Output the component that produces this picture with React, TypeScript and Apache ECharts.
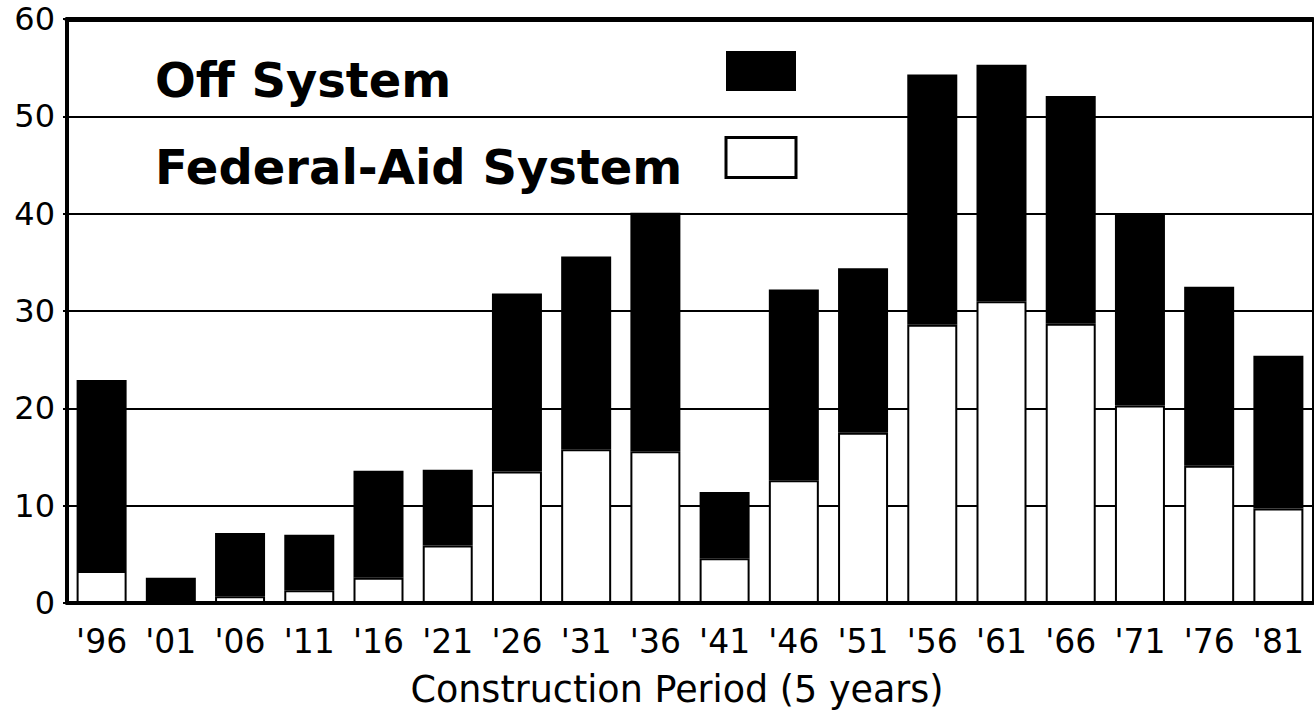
import React, { useEffect, useRef } from "react";
import * as echarts from "echarts";

const categories = ["'96", "'01", "'06", "'11", "'16", "'21", "'26", "'31", "'36", "'41", "'46", "'51", "'56", "'61", "'66", "'71", "'76", "'81"];
const federalAid = [3.3, 0.3, 0.7, 1.3, 2.6, 5.9, 13.5, 15.8, 15.6, 4.6, 12.6, 17.5, 28.6, 31.0, 28.7, 20.3, 14.1, 9.7];
const offSystem = [19.6, 2.3, 6.5, 5.7, 11.0, 7.8, 18.3, 19.8, 24.5, 6.8, 19.6, 16.9, 25.7, 24.3, 23.4, 19.6, 18.4, 15.7];
const yTicks = { min: 0, max: 60, interval: 10 };
const xTitle = "Construction Period (5 years)";

const FONT = "DejaVu Sans";

export default function App() {
  const ref = useRef<HTMLDivElement>(null);
  useEffect(() => {
    if (!ref.current) return;
    const chart = echarts.init(ref.current, undefined, { renderer: "svg" });
    chart.setOption({
      animation: false,
      backgroundColor: "#ffffff",
      grid: {
        left: 67,
        right: 1,
        top: 19,
        bottom: 112,
        show: true,
        borderColor: "#000",
        borderWidth: 2,
        backgroundColor: "transparent",
      },
      legend: {
        orient: "vertical",
        left: 155,
        top: 51,
        padding: 0,
        itemGap: 32,
        itemWidth: 70,
        itemHeight: 40,
        align: "right",
        icon: "rect",
        selectedMode: false,
        formatter: "{t|{name}}",
        textStyle: {
          rich: {
            t: {
              width: 566,
              align: "left",
              fontSize: 48,
              fontWeight: "bold",
              fontFamily: FONT,
              color: "#000",
              padding: [18, 0, 0, 0],
            },
          },
        },
        data: [
          { name: "Off System", itemStyle: { color: "#000", borderWidth: 0 } },
          { name: "Federal-Aid System", itemStyle: { color: "#fff", borderColor: "#000", borderWidth: 3 } },
        ],
      },
      xAxis: [
        {
          type: "category",
          data: categories,
          axisLine: { lineStyle: { color: "#000", width: 4 } },
          axisTick: { show: false },
          axisLabel: { color: "#000", fontSize: 33, fontFamily: FONT, margin: 22, interval: 0 },
          name: xTitle,
          nameLocation: "middle",
          nameGap: 68,
          nameTextStyle: { color: "#000", fontSize: 36.5, fontFamily: FONT, padding: [0, 26, 0, 0] },
          splitLine: { show: false },
        },
        {
          type: "category",
          position: "top",
          data: categories,
          axisLine: { lineStyle: { color: "#000", width: 5 } },
          axisTick: { show: false },
          axisLabel: { show: false },
          splitLine: { show: false },
        },
      ],
      yAxis: {
        type: "value",
        min: yTicks.min,
        max: yTicks.max,
        interval: yTicks.interval,
        axisLine: { show: true, lineStyle: { color: "#000", width: 4 } },
        axisTick: { show: true, length: 4, lineStyle: { color: "#000", width: 2 } },
        axisLabel: { color: "#000", fontSize: 32, fontFamily: FONT, margin: 12 },
        splitLine: { show: true, lineStyle: { color: "#000", width: 2 } },
      },
      series: [
        {
          name: "Federal-Aid System",
          type: "bar",
          stack: "total",
          barWidth: 50,
          data: federalAid,
          itemStyle: { color: "#fff", borderColor: "#000", borderWidth: 2 },
        },
        {
          name: "Off System",
          type: "bar",
          stack: "total",
          barWidth: 50,
          data: offSystem,
          itemStyle: { color: "#000", borderColor: "#000", borderWidth: 0 },
        },
      ],
    });
    return () => chart.dispose();
  }, []);
  return (
    <div
      ref={ref}
      style={{ position: "fixed", left: 0, top: 0, width: 1314, height: 715, background: "#fff" }}
    />
  );
}
